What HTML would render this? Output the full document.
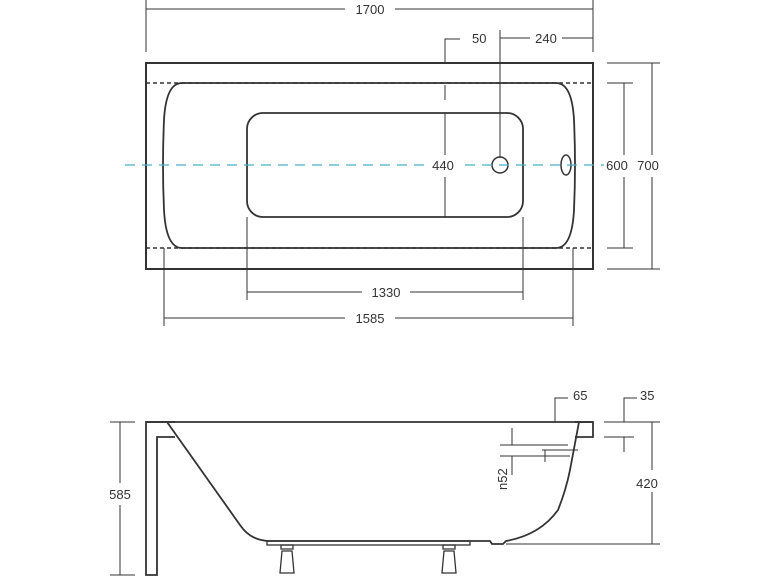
<!DOCTYPE html>
<html><head><style>
body{margin:0;background:#fff}
svg text{font-family:"Liberation Sans",sans-serif;font-size:13px;fill:#333}
</style></head><body>
<svg width="770" height="578" viewBox="0 0 770 578" xmlns="http://www.w3.org/2000/svg">
<g stroke="#333" fill="none" stroke-width="1">
<line x1="146" y1="0" x2="146" y2="52"/><line x1="593" y1="0" x2="593" y2="52"/>
<line x1="146" y1="9" x2="345" y2="9"/><line x1="395" y1="9" x2="593" y2="9"/>
<rect x="146" y="63" width="447" height="206" stroke-width="2"/>
<line x1="146" y1="83" x2="593" y2="83" stroke-dasharray="4,3" stroke-width="1.5"/>
<line x1="146" y1="248" x2="593" y2="248" stroke-dasharray="4,3" stroke-width="1.5"/>
<path d="M182 83 L556 83 Q572 83 574 120 Q576 165 574 210 Q572 248 556 248 L182 248 Q166 248 164 210 Q162 165 164 120 Q166 83 182 83 Z" stroke-width="1.8"/>
<rect x="247" y="113" width="276" height="104" rx="16" stroke-width="1.8"/>
<polyline points="460,39 445,39 445,63"/>
<line x1="445" y1="85" x2="445" y2="100"/>
<line x1="445" y1="113" x2="445" y2="155"/><line x1="445" y1="177" x2="445" y2="217"/>
<line x1="500" y1="30" x2="500" y2="158"/>
<line x1="500" y1="38" x2="530" y2="38"/><line x1="562" y1="38" x2="593" y2="38"/>
<circle cx="500" cy="165" r="8" stroke-width="1.5"/>
<ellipse cx="566" cy="165" rx="5" ry="10" stroke-width="1.5"/>
<line x1="607" y1="83" x2="633" y2="83"/><line x1="607" y1="248" x2="633" y2="248"/>
<line x1="624" y1="83" x2="624" y2="155"/><line x1="624" y1="177" x2="624" y2="248"/>
<line x1="607" y1="63" x2="660" y2="63"/><line x1="607" y1="269" x2="660" y2="269"/>
<line x1="652" y1="63" x2="652" y2="155"/><line x1="652" y1="177" x2="652" y2="269"/>
<line x1="247" y1="217" x2="247" y2="300"/><line x1="523" y1="217" x2="523" y2="300"/>
<line x1="247" y1="292" x2="362" y2="292"/><line x1="410" y1="292" x2="523" y2="292"/>
<line x1="164" y1="248" x2="164" y2="326"/><line x1="573" y1="248" x2="573" y2="326"/>
<line x1="164" y1="318" x2="345" y2="318"/><line x1="395" y1="318" x2="573" y2="318"/>
</g>
<line x1="125" y1="165" x2="605" y2="165" stroke="#4ab0c8" stroke-width="1.3" stroke-dasharray="10,7"/>
<rect x="428" y="157" width="30" height="16" fill="#fff"/>
<rect x="604" y="157" width="26" height="16" fill="#fff"/>
<text x="370" y="14" text-anchor="middle">1700</text>
<text x="472" y="43">50</text>
<text x="546" y="43" text-anchor="middle">240</text>
<text x="443" y="170" text-anchor="middle">440</text>
<text x="617" y="170" text-anchor="middle">600</text>
<text x="648" y="170" text-anchor="middle">700</text>
<text x="386" y="297" text-anchor="middle">1330</text>
<text x="370" y="323" text-anchor="middle">1585</text>

<g stroke="#333" fill="none" stroke-width="1.8">
<line x1="146" y1="422" x2="593" y2="422"/>
<polyline points="175,422 146,422 146,575 157,575 157,437 175,437"/>
<path d="M167 422 L240 525 Q250 540 268 541 L490 541 L492 544 L503 544 L506 541 Q540 535 558 510 Q566 490 570 470 L579 422"/>
<polyline points="575,422 593,422 593,437 575,437"/>
<rect x="267" y="541" width="203" height="4" stroke-width="1.3"/>
<path d="M281 545 h12 v4 h-12 z M282 551 h10 l2 22 h-14 z" stroke-width="1.3"/>
<path d="M443 545 h12 v4 h-12 z M444 551 h10 l2 22 h-14 z" stroke-width="1.3"/>
</g>
<g stroke="#333" fill="none" stroke-width="1">
<line x1="110" y1="422" x2="135" y2="422"/><line x1="110" y1="575" x2="135" y2="575"/>
<line x1="120" y1="422" x2="120" y2="483"/><line x1="120" y1="505" x2="120" y2="575"/>
<line x1="604" y1="422" x2="660" y2="422"/><line x1="506" y1="544" x2="660" y2="544"/>
<line x1="652" y1="422" x2="652" y2="470"/><line x1="652" y1="492" x2="652" y2="544"/>
<polyline points="555,422 555,398 568,398"/>
<polyline points="637,398 624,398 624,422"/>
<line x1="604" y1="437" x2="634" y2="437"/><line x1="624" y1="437" x2="624" y2="452"/>
<line x1="512" y1="428" x2="512" y2="445"/>
<line x1="500" y1="445" x2="568" y2="445"/><line x1="500" y1="456" x2="570" y2="456"/>
<line x1="542" y1="450" x2="578" y2="450"/>
<line x1="512" y1="456" x2="512" y2="475"/>
<line x1="545" y1="450" x2="545" y2="462"/>
</g>
<text x="120" y="499" text-anchor="middle">585</text>
<text x="573" y="400">65</text>
<text x="640" y="400">35</text>
<text x="647" y="488" text-anchor="middle">420</text>
<text x="0" y="0" transform="translate(507,490) rotate(-90)" font-size="12">n52</text>
</svg>
</body></html>
